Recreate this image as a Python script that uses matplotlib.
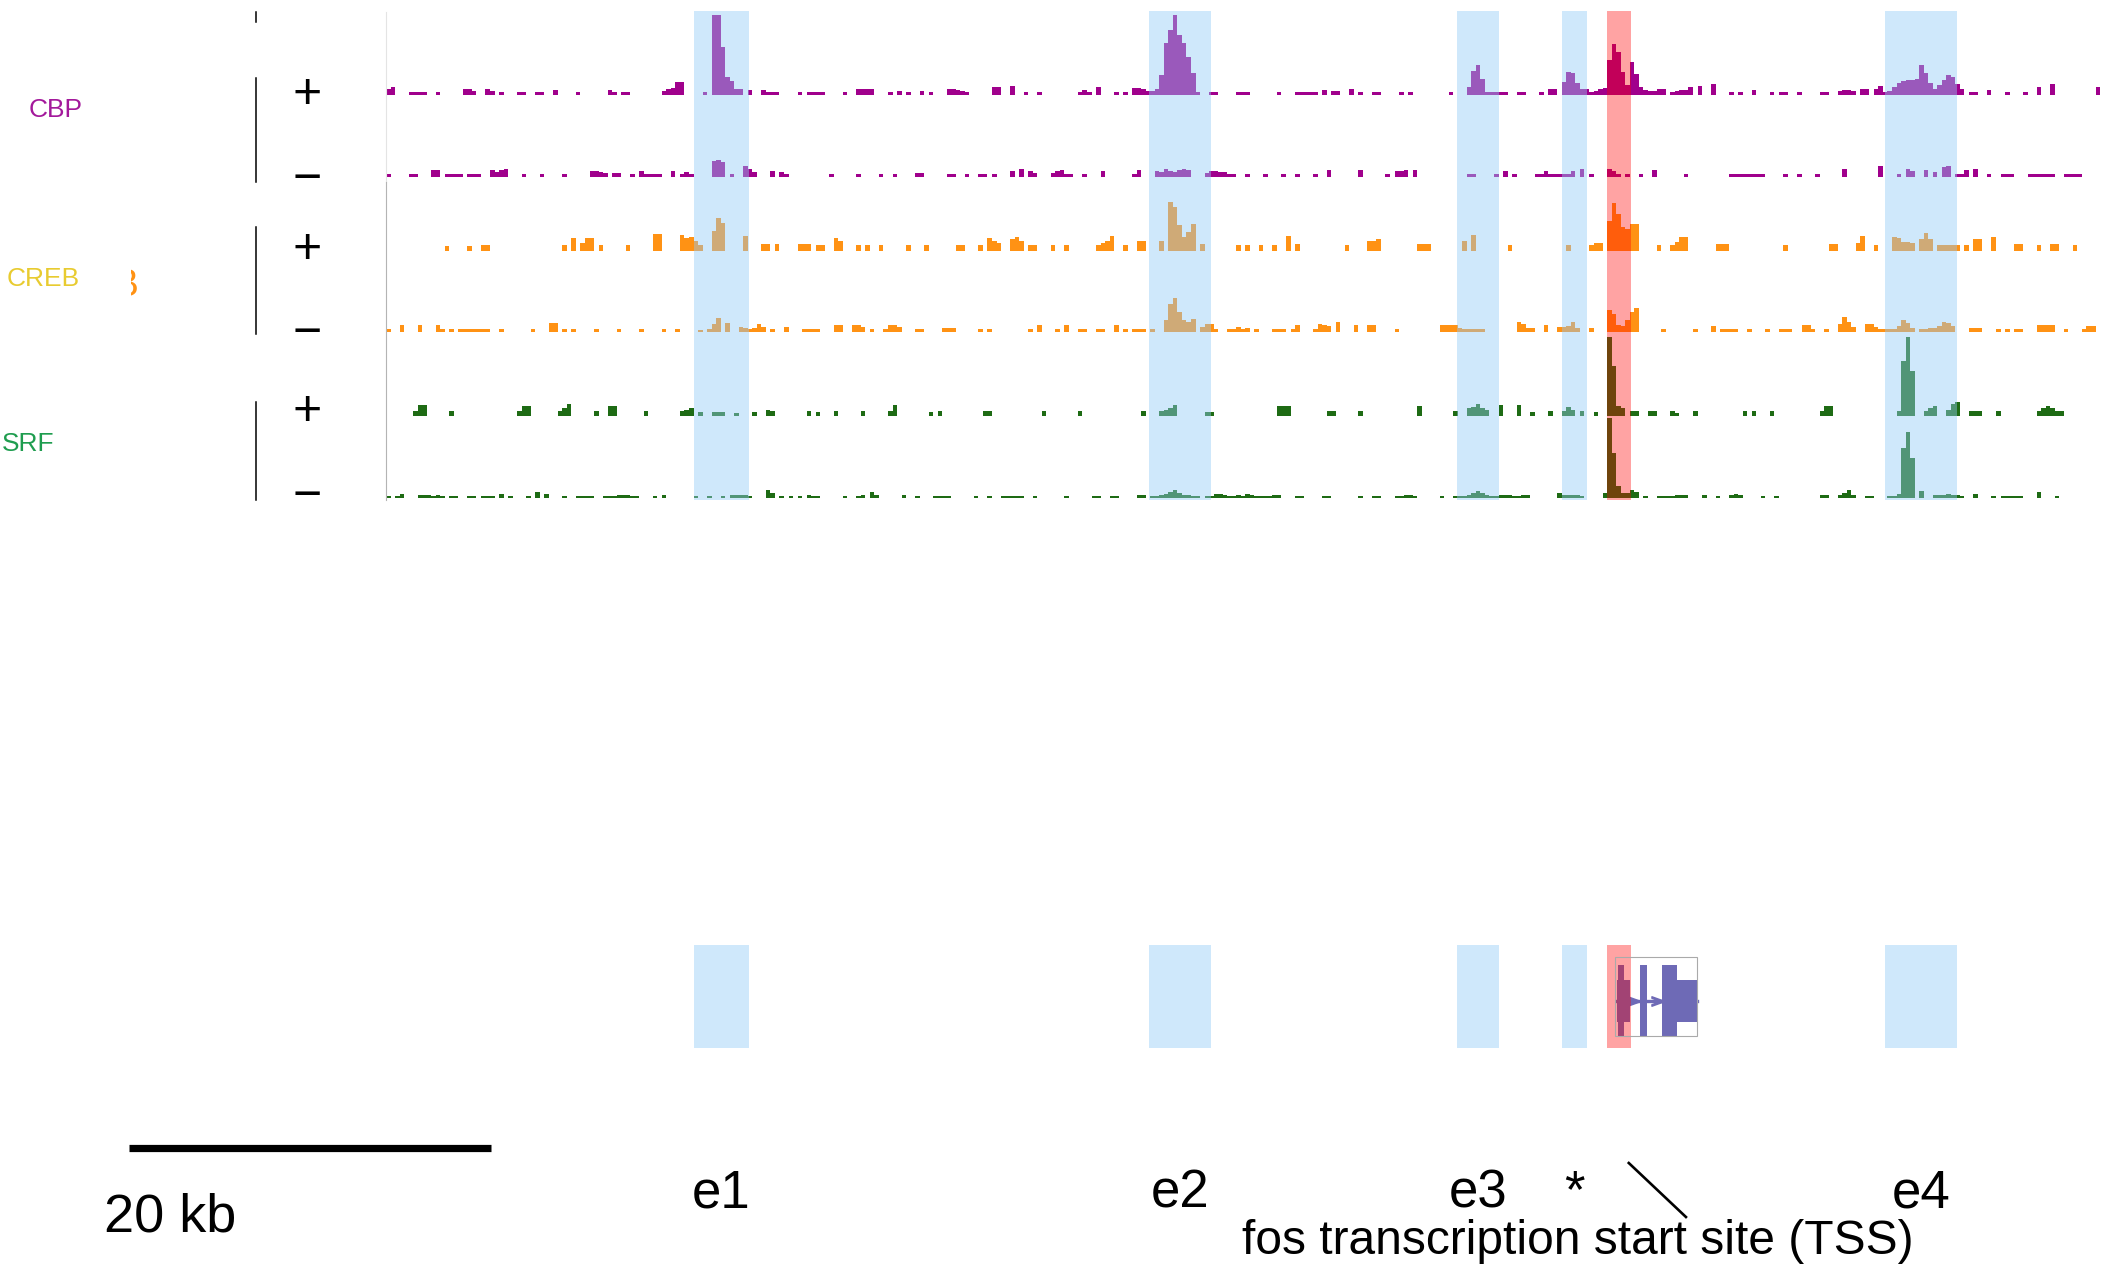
import numpy as np
import matplotlib.pyplot as plt
from matplotlib.lines import Line2D
from matplotlib.patches import Rectangle
from matplotlib.transforms import blended_transform_factory, Bbox

plt.rcParams['font.family'] = ['Liberation Sans', 'DejaVu Sans']

W, H = 2101, 1266

# ---- data ----------------------------------------------------------------
bin_kb = 0.25      # one signal bin
n_bins = 379       # ~95 kb window around fos

# every run is (first bin, heights of the following bins)
cbp_plus = [
    (0, [6, 8]), (5, [3, 3, 3, 3]), (11, [3]), (17, [6, 6, 4]), (22, [6, 4]), (25, [3]),
    (29, [3, 3]), (33, [3, 3]), (37, [5]), (42, [3]), (49, [5, 3]), (52, [3, 3]),
    (61, [4, 6, 7]), (64, [13, 13]), (70, [3]), (72, [80, 80, 48, 18, 14, 6, 6]), (80, [5]),
    (83, [5, 3, 3, 3]), (91, [3]), (93, [3, 3]),
    (95, [3, 3]), (101, [3]), (104, [6, 6, 6, 6]), (111, [3]), (113, [4]), (115, [3]),
    (118, [4]), (120, [3]), (124, [6, 6, 5, 4, 3]), (134, [8, 8]), (138, [9]), (141, [3]),
    (144, [3]), (153, [3, 5, 3]), (157, [8]), (161, [3]), (163, [3]), (165, [7, 7, 6]),
    (168, [4, 4, 6, 20, 52, 65, 80, 60, 52, 38, 22]), (179, [3]), (182, [3, 3]), (188, [3, 3]),
    (190, [3]), (197, [3]), (201, [3, 3, 3, 3, 3]), (207, [5]), (209, [4, 4]), (213, [6]),
    (215, [3]), (218, [3, 3]), (224, [3]), (226, [3]), (235, [3]),
    (239, [8, 24, 30, 16, 3, 3, 3]), (246, [3, 3]), (250, [3, 3]), (255, [3]), (257, [6, 6]),
    (260, [13, 23, 22, 12, 6, 6]), (266, [3, 4, 6, 7]), (270, [35, 51, 43, 23, 10]),
    (275, [33, 21, 8, 5]), (279, [4, 4]), (281, [6, 6]), (284, [3]),
    (285, [4, 5, 5, 8]), (290, [9]), (293, [11]), (297, [3]), (299, [3]), (302, [5]),
    (306, [3]), (308, [3, 3]), (312, [3]), (317, [3, 3]), (321, [4, 5, 5, 4]), (326, [6, 6]),
    (329, [6, 9, 3]), (332, [4, 8, 12, 14, 15, 15, 16, 30, 22, 12, 6, 10, 15, 20, 18, 11, 6]),
    (350, [3, 3]), (354, [5]), (358, [3]), (362, [3]), (365, [8]), (368, [11]), (378, [8]),
]
cbp_minus = [
    (0, [3]), (5, [3, 3]), (10, [7, 7]), (13, [3, 3, 3, 3]), (18, [3, 3, 3]), (23, [7, 5, 7, 8]),
    (30, [3]), (34, [3]), (39, [3]), (45, [6, 6, 5, 4]), (50, [4, 4]), (54, [3]),
    (56, [6, 3, 3, 3, 3]), (63, [6]), (65, [3, 5, 3]), (72, [16, 17, 15]), (76, [3]),
    (79, [11, 8, 5]), (85, [6]), (87, [5, 3]),
    (98, [3]), (104, [3]), (109, [3]), (112, [3]), (117, [4, 4]), (124, [3, 3]), (128, [3]),
    (131, [3, 3]), (134, [3]), (138, [6]), (140, [8]), (142, [6, 4]), (147, [4, 6, 7, 3]),
    (151, [3]), (154, [3]), (158, [6]), (165, [3, 7]), (170, [6, 5, 8, 6, 5, 7, 8, 7]),
    (181, [4, 6, 6, 5, 5, 3, 3]),
    (190, [3]), (194, [3]), (198, [3]), (201, [3]), (205, [3]), (208, [7]), (215, [7]),
    (221, [3]), (223, [6, 6, 7]), (227, [7]), (239, [3, 3]), (245, [3]), (247, [6]), (249, [3]),
    (254, [3, 3, 6, 3, 3, 3, 3, 3, 6, 0, 8]), (266, [3]), (270, [8, 6, 3]), (274, [3]),
    (277, [3]), (280, [7]),
    (287, [3]), (297, [3, 3, 3, 3, 3, 3, 3, 3]), (309, [3]), (312, [3]), (316, [3]), (322, [8]),
    (330, [11]), (334, [3]), (336, [8, 6]), (340, [7]), (342, [5]), (344, [10, 11]),
    (347, [3, 3, 7]), (351, [8]), (354, [3]), (357, [3, 3, 3]), (363, [3, 3, 3, 3, 3, 3]),
    (371, [3, 3, 3, 3]),
]
creb_plus = [
    (13, [5]), (18, [5]), (21, [6, 6]), (39, [6]), (41, [13]), (43, [8, 13, 13]), (47, [6]),
    (53, [6]), (59, [17, 17]), (65, [16, 13, 14, 10]), (69, [6]), (72, [20, 33, 28]),
    (79, [15]), (83, [7, 7]), (86, [7]), (91, [7, 7]), (93, [7]),
    (95, [6, 6]), (99, [13, 10]), (104, [6]), (106, [6]), (109, [6]), (115, [6]), (119, [6]),
    (126, [6, 6]), (131, [6]), (133, [13, 10, 8]), (138, [12, 14, 10]), (142, [6, 6]),
    (147, [6]), (150, [6]), (157, [6, 8, 10]), (160, [15]), (163, [6]), (166, [10, 10]),
    (171, [10]), (173, [49, 44, 26, 14, 19, 27]), (180, [7]), (188, [6]),
    (190, [6]), (193, [6]), (196, [6]), (199, [15]), (201, [7]), (212, [6]), (217, [10, 10, 12]),
    (228, [7, 7, 7]), (238, [10]), (240, [16]), (248, [6]), (261, [6]), (266, [6, 8, 8]),
    (270, [30, 48, 37, 24, 22, 27, 27]), (281, [6]), (284, [6]),
    (285, [9, 14, 14]), (294, [7, 7, 7]), (309, [6]), (319, [7, 7]), (325, [8, 15]), (329, [6]),
    (333, [14, 13, 9, 9, 8]), (339, [12, 18, 12]), (343, [6, 6, 6, 6, 6]), (349, [6]),
    (351, [12, 12]), (355, [14]), (360, [7, 7]), (365, [6]), (368, [7, 7]), (373, [6]),
]
creb_minus = [
    (0, [3]), (3, [7]), (7, [7]), (11, [7, 3]), (14, [3]), (16, [3, 3, 3, 3, 3]), (21, [3, 3]),
    (25, [3]), (32, [3]), (36, [9, 9]), (39, [3]), (41, [3]), (46, [3]), (51, [3]), (56, [3]),
    (61, [3]), (64, [3]), (69, [2]), (71, [3, 8, 14]), (75, [9]), (78, [5, 4, 3]),
    (81, [4, 8, 5]), (85, [3]), (88, [5]), (92, [3, 3, 3]),
    (95, [3]), (99, [7, 7]), (103, [7, 7, 5]), (107, [3]), (110, [3, 7, 7, 5]), (117, [3, 3]),
    (123, [4, 4, 4]), (131, [3]), (133, [3]), (142, [3]), (144, [7]), (148, [3]), (150, [7]),
    (153, [3, 3]), (157, [3, 3]), (161, [7]), (163, [3]), (165, [3, 3, 3]), (169, [3]),
    (172, [12, 28, 34, 20, 12, 10, 13]), (180, [5, 8, 8, 3]), (186, [3, 3, 5, 3]),
    (190, [4]), (192, [3]), (196, [3, 3, 3]), (200, [3, 7]), (205, [3, 8, 7, 6]), (210, [10]),
    (214, [7]), (217, [7, 7]), (223, [3]), (233, [7, 7, 7, 7]), (237, [4, 3, 3, 3, 3, 3]),
    (250, [10, 8, 4, 4]), (256, [7]), (259, [5, 5, 6, 10, 4]), (266, [4]),
    (270, [22, 18, 7, 6, 12, 20, 24]), (282, [3]),
    (289, [3]), (293, [6]), (295, [3, 3, 3, 3]), (301, [3]), (305, [3]), (308, [3, 3, 3]),
    (313, [7, 7, 3]), (318, [3]), (321, [8, 15, 10, 5]), (327, [8, 8, 5, 3, 3]),
    (332, [3, 3, 6, 12, 9, 4]), (339, [3, 3, 4, 4]), (343, [6, 10, 9, 6]), (350, [4, 4, 4]),
    (356, [3, 0, 3, 0, 3, 3]), (365, [7, 7, 7, 7]), (371, [3]), (375, [3, 6, 6]),
]
srf_plus = [
    (6, [5, 11, 11]), (14, [5]), (29, [5, 10, 10]), (38, [5, 8, 12]), (46, [5]), (49, [10, 10]),
    (57, [5]), (65, [5, 6, 8]), (69, [4]), (72, [4, 4, 4]), (77, [3]), (81, [4]), (84, [6, 5]),
    (93, [5]),
    (95, [4]), (99, [5]), (105, [5]), (111, [5, 11]), (120, [4]), (122, [5]), (132, [5, 5]),
    (145, [5]), (153, [5]), (167, [5]), (171, [5, 6, 8, 11]), (181, [4, 4]),
    (197, [10, 10, 10]), (208, [5, 5]), (215, [5]), (228, [10]), (236, [5]),
    (239, [8, 9, 12, 8, 6]), (246, [11]), (250, [11]), (253, [4]), (257, [5]), (260, [5, 9, 6]),
    (264, [5]), (267, [4]), (270, [79, 50, 10, 8]), (275, [5, 5]), (279, [5, 5]), (284, [5]),
    (285, [3]), (289, [5]), (300, [5]), (302, [5]), (306, [5]), (317, [5, 10, 10]),
    (334, [5, 55, 79, 45]), (340, [5, 8, 10]), (345, [6, 12, 14]), (350, [5, 5, 5]), (356, [5]),
    (365, [5, 8, 10, 8, 5, 5]),
]
srf_minus = [
    (0, [2]), (2, [2, 4]), (7, [3, 3, 3]), (10, [2, 3, 2]), (14, [2, 2]), (18, [2, 2]),
    (21, [2, 2, 2]), (25, [4]), (27, [2]), (31, [2]), (33, [6]), (35, [4]), (39, [2]),
    (42, [2, 2, 2, 2]), (48, [2, 2, 2]), (51, [3, 3, 3, 2, 2]), (59, [2]), (61, [3]), (68, [2]),
    (71, [2]), (74, [2]), (76, [3, 3, 3, 3]), (80, [2]), (84, [8, 5]),
    (87, [2, 0, 2, 0, 2, 0, 3, 2]),
    (95, [2]), (101, [2]), (104, [2, 3]), (107, [6, 3]), (114, [3]), (117, [2]),
    (121, [2, 2, 2, 2]), (130, [2]), (133, [2]), (136, [2, 2, 2, 2, 2]), (143, [2]), (150, [2]),
    (156, [2, 2]), (160, [2, 2]), (166, [3, 3]), (169, [2, 2, 3, 4, 6, 8, 5, 3, 3, 2, 2]),
    (181, [2, 2, 4, 4, 3, 2, 2, 3, 2]),
    (190, [4, 3, 2, 2, 2, 2, 3, 3]), (201, [2, 2]), (207, [2, 2]), (215, [2]), (218, [2, 2]),
    (223, [2, 2, 3, 3, 2]), (233, [2]), (236, [2, 2, 2, 3, 5, 7, 5, 3, 2, 2]),
    (246, [3, 3, 3, 2, 2, 3, 3]), (259, [5, 3, 3, 3, 3, 2]), (269, [5, 80, 45, 12, 5, 5]),
    (275, [8, 6]), (278, [2]), (281, [2, 2, 2, 2]),
    (285, [3, 3, 3]), (291, [3]), (294, [2]), (297, [3, 4, 3]), (304, [2]), (307, [2]),
    (317, [3, 3]), (321, [3, 5, 8, 3]), (327, [2, 2]), (332, [2, 2, 4, 50, 66, 40]), (339, [7]),
    (342, [3, 3, 3, 4, 3, 3, 2]), (351, [4]), (355, [2]), (357, [2, 2, 2, 2, 2]), (365, [6]),
    (369, [2]),
]

factor_labels = ['CBP', 'CREB', 'SRF']
strand_labels = ['+', '\u2212']

enh_labels = ['e1', 'e2', 'e3', '*', 'e4']
enh_start = [17.03, 42.18, 59.20, 65.01, 82.86]
enh_end = [20.07, 45.61, 61.53, 66.39, 86.84]
tss_band = [67.50, 68.82]

exon_start = [68.04, 68.10, 69.32, 70.54, 71.37]
exon_end = [68.77, 68.43, 69.71, 71.37, 72.47]
exon_kind = ['utr', 'cds', 'cds', 'cds', 'utr']
gene_span = [67.94, 72.47]
intron_marks = [68.95, 70.25]

scale_kb = 20
tss_note = 'fos transcription start site (TSS)'

# ---- drawing -------------------------------------------------------------
px_per_kb = 18.09
purple, orange, green = '#a0008c', '#ff9214', '#1e6b14'
label_cols = ['#a3199b', '#e8cb30', '#1f9d4f']
band_blue = '#93cbf8'
gene_col = '#6e6ab6'


def fx(x):
    return x / W


def fy(y):
    return 1 - y / H


fig = plt.figure(figsize=(W / 100, H / 100), dpi=100)
x0 = 386
ax_t = fig.add_axes([fx(x0), fy(500), 1 - fx(x0), (500 - 11) / H])
ax_g = fig.add_axes([fx(x0), fy(1048), 1 - fx(x0), (1048 - 945) / H])
for ax in (ax_t, ax_g):
    ax.set_xlim(0, (W - x0) / px_per_kb)
    ax.axis('off')
ax_t.set_ylim(0, 489)
ax_g.set_ylim(0, 103)

# signal tracks
tracks = [cbp_plus, cbp_minus, creb_plus, creb_minus, srf_plus, srf_minus]
track_cols = [purple, purple, orange, orange, green, green]
base_px = [95, 177, 251, 332, 416, 498]
edges = np.arange(n_bins + 1) * bin_kb
for runs, col, b in zip(tracks, track_cols, base_px):
    vals = np.zeros(n_bins)
    for start, hs in runs:
        vals[start:start + len(hs)] = hs
    base = 500 - b
    ax_t.stairs(base + vals, edges, baseline=base, fill=True, color=col, lw=0)

# enhancer / TSS bands
for ax in (ax_t, ax_g):
    for s, e in zip(enh_start, enh_end):
        ax.axvspan(s, e, color=band_blue, alpha=0.44, lw=0, zorder=3)
    ax.axvspan(tss_band[0], tss_band[1], color='red', alpha=0.36, lw=0, zorder=3)

# fos gene model
mid = 47.5
ax_g.plot([exon_start[0], exon_end[-1]], [mid, mid], color=gene_col, lw=2.4, zorder=2)
for s, e, k in zip(exon_start, exon_end, exon_kind):
    half = 35.5 if k == 'cds' else 21
    ax_g.add_patch(Rectangle((s, mid - half), e - s, 2 * half, color=gene_col, lw=0, zorder=2))
ax_g.plot(intron_marks, [mid] * len(intron_marks), ls='none', marker='$>$', ms=8,
          color=gene_col, zorder=2)
ax_g.add_patch(Rectangle((gene_span[0], 12), gene_span[1] - gene_span[0], 79, fill=False,
                         edgecolor='#aaaaaa', lw=0.8, zorder=4))

# bottom annotations
tr = blended_transform_factory(ax_g.transData, fig.transFigure)
for lab, s, e in zip(enh_labels, enh_start, enh_end):
    fig.text((s + e) / 2, fy(1207), lab, transform=tr, ha='center', va='baseline', fontsize=38)
sb_left = (129 - x0) / px_per_kb
ax_g.plot([sb_left, sb_left + scale_kb], [fy(1148)] * 2, transform=tr, clip_on=False,
          color='black', lw=5.2, solid_capstyle='butt')
fig.text(fx(170), fy(1231), f'{scale_kb} kb', ha='center', va='baseline', fontsize=39)
ax_g.plot([68.7, 71.86], [fy(1163), fy(1217)], transform=tr, clip_on=False,
          color='black', lw=1.9)
fig.text(fx(1578), fy(1254), tss_note, ha='center', va='baseline', fontsize=34.5)

# left side: factor names, strand signs, bracket lines
name_x = [56, 43, 28]
name_y = [117, 286, 451]
for lab, col, x, y in zip(factor_labels, label_cols, name_x, name_y):
    fig.text(fx(x), fy(y), lab, color=col, fontsize=19, ha='center', va='baseline')

frag = fig.text(fx(139), fy(296), 'B', color=orange, fontsize=28, ha='right', va='baseline')
frag.set_clip_on(True)
frag.set_clip_box(Bbox.from_extents(131, H - 300, 140, H - 265))

sign_y = [91, 176, 246, 330, 408, 493]
for i, y in enumerate(sign_y):
    fig.text(fx(307), fy(y + 17), strand_labels[i % 2], fontsize=36, ha='center', va='baseline')

for y0, y1 in [(12, 22), (78, 182), (227, 334), (402, 500)]:
    fig.add_artist(Line2D([fx(256)] * 2, [fy(y0), fy(y1)], color='black', lw=1.1))
fig.add_artist(Line2D([fx(386)] * 2, [fy(12), fy(182)], color='#e4e4e4', lw=0.8))
fig.add_artist(Line2D([fx(386)] * 2, [fy(182), fy(500)], color='#b4b4b4', lw=0.8))

fig.savefig('out.png', dpi=100)
